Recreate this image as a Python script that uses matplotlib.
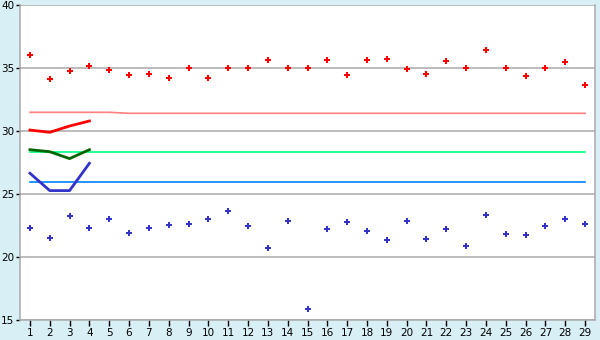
import matplotlib
matplotlib.use("Agg")
import matplotlib.pyplot as plt

days = list(range(1, 30))
red_points = [36.03, 34.12, 34.76, 35.15, 34.84, 34.44, 34.52, 34.2, 35.0, 34.2,
              35.0, 35.0, 35.63, 35.0, 35.0, 35.63, 34.44, 35.63, 35.71, 34.92,
              34.52, 35.55, 35.0, 36.43, 35.0, 34.36, 35.0, 35.47, 33.65]
blue_points = [22.29, 21.49, 23.24, 22.29, 23.0, 21.89, 22.29, 22.53, 22.63, 23.0,
               23.64, 22.45, 20.7, 22.84, 15.85, 22.21, 22.76, 22.05, 21.39, 22.84,
               21.41, 22.21, 20.86, 23.32, 21.81, 21.73, 22.45, 23.0, 22.63]
red_ref = [31.5] * 5 + [31.42] * 24
green_ref = [28.32] * 29
blue_ref = [25.94] * 29
short_days = [1, 2, 3, 4]
red_short = [30.09, 29.91, 30.41, 30.81]
green_short = [28.53, 28.37, 27.82, 28.53]
blue_short = [26.66, 25.28, 25.28, 27.45]
yticks = [15, 20, 25, 30, 35, 40]

bg = "#d9eff6"
fig = plt.figure(figsize=(6, 3.4), dpi=100, facecolor=bg)
ax = fig.add_axes([20/600, 1-320/340, 575/600, (320-5.3)/340])
ax.set_facecolor("white")

for y in yticks:
    ax.axhline(y, color="#aaaaaa", lw=1.1, zorder=1)

ax.plot(days, red_ref, color="#ff8080", lw=1.2, zorder=2)
ax.plot(days, green_ref, color="#00ff80", lw=1.2, zorder=2)
ax.plot(days, blue_ref, color="#0080ff", lw=1.2, zorder=2)
ax.plot(short_days, red_short, color="#ff0000", lw=2, zorder=3)
ax.plot(short_days, green_short, color="#006600", lw=2, zorder=3)
ax.plot(short_days, blue_short, color="#3333cc", lw=2, zorder=3)

ax.plot(days, red_points, linestyle="none", marker="P", markersize=4.5,
        color="#ff0000", markeredgewidth=0, zorder=4)
ax.plot(days, blue_points, linestyle="none", marker="P", markersize=4.5,
        color="#3333cc", markeredgewidth=0, zorder=4)

ax.set_xlim(0.5, 29.5)
ax.set_ylim(15, 40)
ax.set_xticks(days)
ax.set_yticks(yticks)
ax.tick_params(axis="x", direction="out", length=4, width=1, colors="#000000",
               labelsize=7.5, pad=2)
ax.tick_params(axis="y", direction="out", length=3, width=1, colors="#000000",
               labelsize=7.5, pad=1)
for s in ["left", "bottom", "right"]:
    ax.spines[s].set_color("#aaaaaa")
    ax.spines[s].set_linewidth(1.1)
ax.spines["top"].set_visible(False)

fig.savefig("out.png", dpi=100, facecolor=bg)
